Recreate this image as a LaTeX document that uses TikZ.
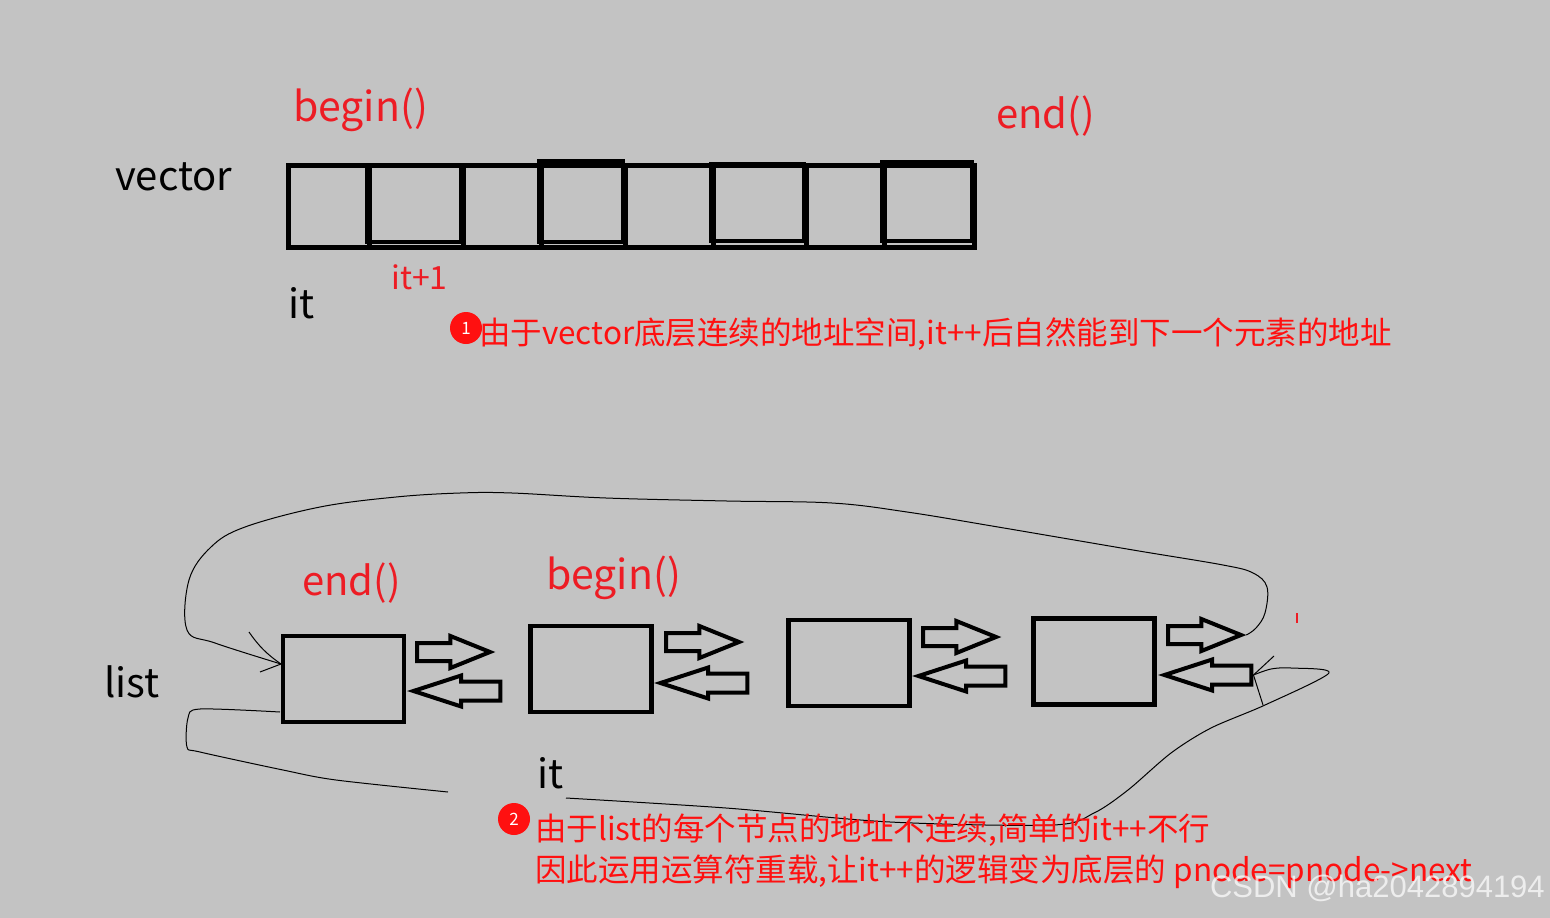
\documentclass[tikz,border=0pt]{standalone}
\usepackage{fontspec}
\usepackage{tikz}
\usetikzlibrary{shapes.arrows}
\newfontfamily\cjk{Noto Sans CJK SC}
\newfontfamily\wmfont{Liberation Sans}
\definecolor{paintgray}{RGB}{195,195,195}
\definecolor{paintred}{RGB}{237,28,36}
\definecolor{notered}{RGB}{255,16,16}
\tikzset{
  cellbox/.style={
    rectangle,
    draw=black,
    line width=4.5pt,
    inner sep=0pt,
    minimum height=82pt,
    anchor=north west
  },
  listbox/.style={
    rectangle,
    draw=black,
    line width=4.5pt,
    inner sep=0pt,
    minimum width=121pt,
    minimum height=86pt
  },
  fwdarrow/.style={
    single arrow,
    draw=black,
    line width=4pt,
    inner xsep=0pt,
    inner ysep=7pt,
    single arrow head extend=7pt,
    single arrow tip angle=44,
    minimum height=73pt,
    anchor=tail
  },
  backarrow/.style={
    fwdarrow,
    shape border rotate=180,
    inner ysep=7.5pt,
    single arrow head extend=6pt,
    single arrow tip angle=36,
    minimum height=87pt,
    anchor=tip
  },
  blacktext/.style={
    font=\cjk\fontsize{40}{48}\selectfont,
    inner sep=0pt,
    anchor=base west
  },
  redtext/.style={blacktext, text=paintred},
  notetext/.style={
    font=\cjk\fontsize{31.5}{40}\selectfont,
    text=notered,
    inner sep=0pt,
    anchor=base west
  },
  badge/.style={
    circle,
    fill=notered,
    text=white,
    minimum size=32pt,
    inner sep=0pt,
    font=\cjk\fontsize{17}{17}\selectfont
  },
  loopline/.style={draw=black, line width=1pt, line join=round}
}

\begin{document}
\begin{tikzpicture}[x=1pt,y=-1pt]
\fill[paintgray] (0,0) rectangle (1550,918);
\useasboundingbox (0,0) rectangle (1550,918);

% vector: one row of cells
\node[blacktext] (vec) at (115,190) {vector};
\foreach \a/\b [count=\i] in {286/367,367/461,461/539,539/623,623/711,711/804,804/882,882/972}
  \node[cellbox, minimum width=\b pt-\a pt] (c\i) at (\a,163) {};
\foreach \a/\t/\b/\u in {367/165/461/242,539/161/623/242,711/164/804/241,882/162/972/241}
  \draw[black, line width=4.5pt] (\a,\t) rectangle (\b,\u);
\node[redtext, font=\cjk\fontsize{41}{48}\selectfont] (vbegin) at (293,121) {begin()};
\node[redtext] (vend) at (996,128) {end()};
\node[blacktext] (vit) at (288,318) {it};
\node[redtext, font=\cjk\fontsize{32}{36}\selectfont] (vit1) at (391,289) {it+1};
\node[badge] (n1) at (466,328) {1};
\node[notetext] (t1) at (479,344) {由于vector底层连续的地址空间,it++后自然能到下一个元素的地址};

% list: nodes with next/prev arrows
\node[blacktext] (lst) at (104,697) {list};
\node[listbox] (lbox1) at (343.5,679) {};
\node[listbox] (lbox2) at (591,669) {};
\node[listbox] (lbox3) at (849,663) {};
\node[listbox] (lbox4) at (1094,661.5) {};
\node[fwdarrow] (r1) at (415,652) {};
\node[fwdarrow] (r2) at (664,642) {};
\node[fwdarrow] (r3) at (921,637) {};
\node[fwdarrow] (r4) at (1166,635) {};
\node[backarrow] (l1) at (407,691) {};
\node[backarrow] (l2) at (654,683) {};
\node[backarrow] (l3) at (912,676) {};
\node[backarrow] (l4) at (1158,675) {};
\node[redtext] (lend) at (302,595) {end()};
\node[redtext, font=\cjk\fontsize{41}{48}\selectfont] (lbegin) at (546,589) {begin()};
\node[blacktext] (lit) at (537,788) {it};

% hand drawn loops
\coordinate (inA) at (281,664);
\coordinate (outA) at (280,712);
\draw[loopline] plot[smooth, tension=0.6] coordinates {(r4.tip) (1256,628) (1265,613) (1267,587) (1253,573) (1223,565) (1133,550) (998,527) (907,512) (832,503) (727,501) (606,498) (512,493) (460,493) (396,497) (320,507) (245,527) (211,547) (189,580) (187,630) (215,643) (inA)};
\draw[loopline] (249,632) to[bend right=10] (inA);
\draw[loopline] (260,672) -- (inA);
\draw[loopline] plot[smooth, tension=0.5] coordinates {(outA) (200,709) (188,718) (187,747) (200,752) (283,770) (336,780) (448,792)};
\draw[loopline] plot[smooth, tension=0.5] coordinates {(566,798) (726,808) (890,822) (1053,825) (1094,813) (1128,790) (1171,753) (1211,728) (1265,705) (1329,673) (1291,668) (1271,669) (l4.tail)};
\draw[loopline] (1274,656) -- (l4.tail) -- (1263,705);
\draw[paintred, line width=1.5pt] (1297,613) -- (1297,623);

% notes
\node[badge] (n2) at (514,819) {2};
\node[notetext] (t2a) at (535,840) {由于list的每个节点的地址不连续,简单的it++不行};
\node[notetext] (t2b) at (535,881) {因此运用运算符重载,让it++的逻辑变为底层的 pnode=pnode->next};
\node[anchor=base east, inner sep=0pt, text=white, text opacity=0.7, font=\wmfont\fontsize{31}{36}\selectfont] (wm) at (1545,897) {CSDN @ha2042894194};
\end{tikzpicture}
\end{document}
